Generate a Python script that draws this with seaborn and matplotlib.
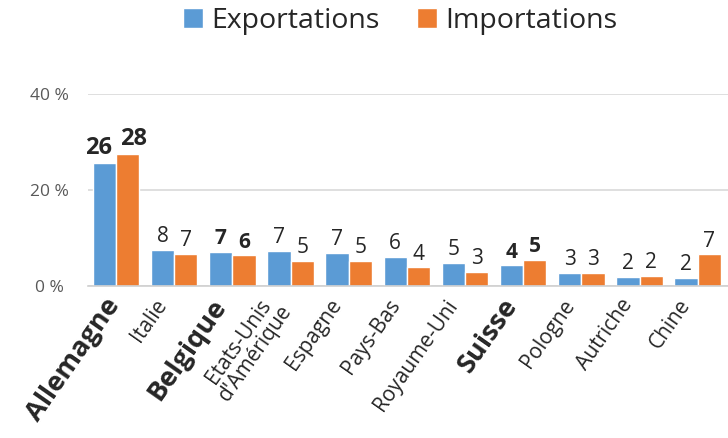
import numpy as np
import pandas as pd
import seaborn as sns
import matplotlib.pyplot as plt
from matplotlib.transforms import ScaledTranslation

pays = ["Allemagne", "Italie", "Belgique", "Etats-Unis\nd'Amérique", "Espagne",
        "Pays-Bas", "Royaume-Uni", "Suisse", "Pologne", "Autriche", "Chine"]
exportations = [25.7, 7.5, 7.1, 7.3, 6.9, 6.0, 4.8, 4.3, 2.8, 1.9, 1.75]
importations = [27.6, 6.7, 6.4, 5.2, 5.2, 3.9, 2.9, 5.4, 2.7, 2.15, 6.6]
lbl_exp = ["26", "8", "7", "7", "7", "6", "5", "4", "3", "2", "2"]
lbl_imp = ["28", "7", "6", "5", "5", "4", "3", "5", "3", "2", "7"]
en_gras = ["Allemagne", "Belgique", "Suisse"]

df = pd.DataFrame({"pays": pays, "Exportations": exportations, "Importations": importations})
df = df.melt(id_vars="pays", var_name="flux", value_name="part")

sns.set_style("white")
plt.rcParams['font.family'] = ['Open Sans', 'DejaVu Sans']

fig = plt.figure(figsize=(7.28, 4.38), dpi=100)
ax = fig.add_axes([0.121, 0.347, 0.879, 0.438])

sns.barplot(data=df, x="pays", y="part", hue="flux", ax=ax,
            palette=["#5B9BD5", "#ED7D31"], width=0.8, saturation=1, legend=True)

ax.set_ylim(0, 40)
ax.set_xlim(-0.48, 10.52)
ax.set_yticks([0, 20, 40])
ax.set_yticklabels(["0 %", "20 %", "40 %"], ha="center")
ax.yaxis.grid(True, color="#d9d9d9", linewidth=1.2)
ax.set_axisbelow(True)
ax.tick_params(axis="y", length=0, pad=28, labelsize=12.5, labelcolor="#595959")
ax.tick_params(axis="x", length=0, pad=11)
for s in ["top", "right", "left"]:
    ax.spines[s].set_visible(False)
ax.spines["bottom"].set_color("#d0d0d0")
ax.spines["bottom"].set_linewidth(1.2)
ax.set_xlabel("")
ax.set_ylabel("")

# etiquettes des pays
ax.set_xticks(range(len(pays)))
ax.set_xticklabels(pays)
for t in ax.get_xticklabels():
    nom = t.get_text()
    t.set_rotation(55)
    t.set_ha("right")
    t.set_va("center")
    t.set_rotation_mode("anchor")
    t.set_multialignment("center")
    t.set_color("#262626")
    t.set_linespacing(0.95)
    dx = -1 if nom == "Allemagne" else -8
    t.set_transform(t.get_transform() + ScaledTranslation(dx / 72, 0, fig.dpi_scale_trans))
    if nom in en_gras:
        t.set_fontweight("bold")
        t.set_fontsize(19.5)
    else:
        t.set_fontsize(15)

# valeurs au-dessus des barres
for k, (cont, lbls) in enumerate(zip(ax.containers, [lbl_exp, lbl_imp])):
    for i, (bar, txt) in enumerate(zip(cont, lbls)):
        gras = pays[i] in en_gras
        taille = 17 if i == 0 else 15
        dx = (-4 if k == 0 else 4) if i == 0 else 0
        ax.annotate(txt, (bar.get_x() + bar.get_width() / 2, bar.get_height()),
                    xytext=(dx, 2), textcoords="offset points", ha="center", va="bottom",
                    fontsize=taille, fontweight="bold" if gras else "normal", color="#262626")

ax.legend(loc="center", bbox_to_anchor=(0.55, 0.953), bbox_transform=fig.transFigure,
          ncol=2, frameon=False, fontsize=20.5, handlelength=0.7, handleheight=0.7,
          handletextpad=0.3, columnspacing=1.3, labelcolor="#262626")

fig.savefig("out.png", dpi=100)
